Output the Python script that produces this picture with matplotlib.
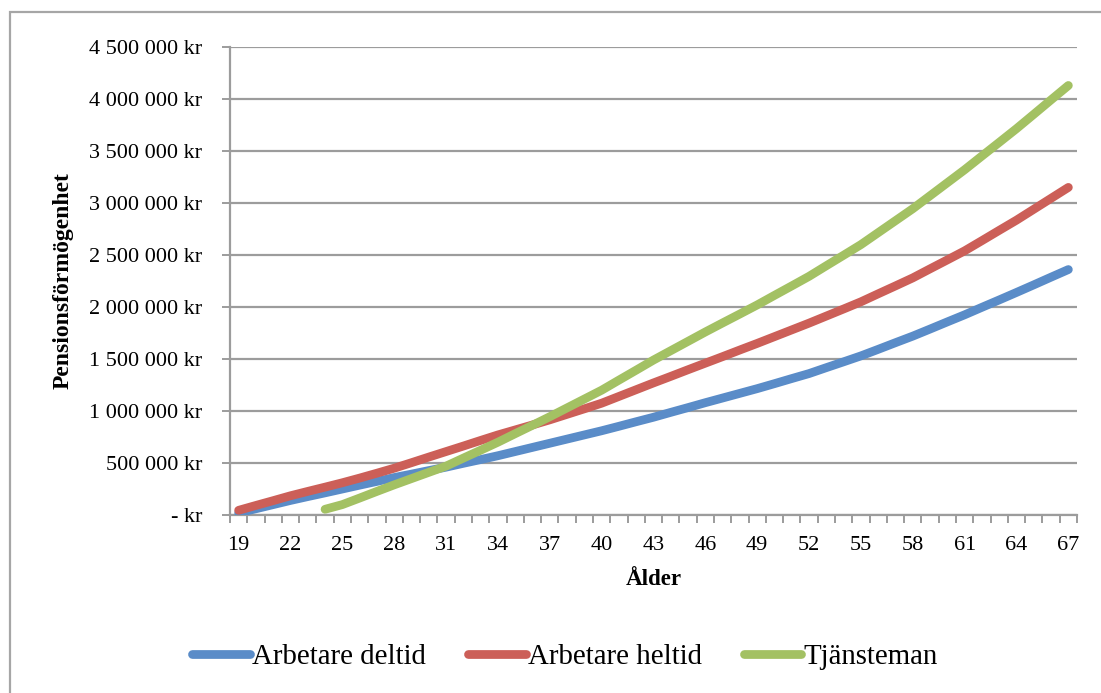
import numpy as np
import matplotlib
matplotlib.use("Agg")
import matplotlib.pyplot as plt
from matplotlib.ticker import FixedLocator, FuncFormatter, NullFormatter
from matplotlib.patches import Rectangle

# Ages on the category axis
ages = list(range(19, 68))

# Pension wealth (kr) per age
arbetare_deltid = [
    20000, 60000, 100000, 140000, 177000, 213000, 250000, 287000, 323000, 360000,
    393000, 427000, 460000, 497000, 533000, 570000, 610000, 650000, 690000, 730000,
    770000, 810000, 853000, 897000, 940000, 987000, 1033000, 1080000, 1125000, 1170000,
    1215000, 1263000, 1312000, 1360000, 1417000, 1473000, 1530000, 1593000, 1657000, 1720000,
    1788000, 1857000, 1925000, 1997000, 2068000, 2140000, 2213000, 2287000, 2360000,
]
arbetare_heltid = [
    45000, 92000, 138000, 185000, 227000, 268000, 310000, 355000, 402000, 450000,
    503000, 557000, 610000, 663000, 717000, 770000, 818000, 866000, 915000, 968000,
    1021000, 1075000, 1140000, 1205000, 1270000, 1333000, 1397000, 1460000, 1523000, 1587000,
    1650000, 1715000, 1780000, 1845000, 1913000, 1981000, 2050000, 2127000, 2203000, 2280000,
    2367000, 2453000, 2540000, 2638000, 2737000, 2835000, 2940000, 3045000, 3150000,
]
# Tjänsteman starts saving at 24
tjansteman = [
    None, None, None, None, None, 55000, 100000, 163000, 227000, 290000,
    350000, 410000, 470000, 547000, 623000, 700000, 782000, 863000, 945000, 1030000,
    1115000, 1200000, 1297000, 1393000, 1490000, 1580000, 1670000, 1760000, 1847000, 1933000,
    2020000, 2112000, 2203000, 2295000, 2397000, 2498000, 2600000, 2715000, 2830000, 2945000,
    3070000, 3195000, 3320000, 3452000, 3583000, 3715000, 3853000, 3992000, 4130000,
]

series_names = ["Arbetare deltid", "Arbetare heltid", "Tjänsteman"]
series_colors = ["#5A8CC8", "#CC5F58", "#A3C163"]

x_label_ages = list(range(19, 68, 3))
y_ticks = list(range(0, 4500001, 500000))

plt.rcParams["font.family"] = ["Liberation Serif", "DejaVu Serif"]

fig = plt.figure(figsize=(11.01, 6.93), dpi=100)
fig.patch.set_facecolor("white")

# Outer chart frame
fig.patches.append(Rectangle((10 / 1101, -0.1), 1.2, 1 - 12 / 693 + 0.1,
                             transform=fig.transFigure, fill=False,
                             edgecolor="#A6A6A6", linewidth=1.6, zorder=0))

ax = fig.add_axes([230 / 1101, 1 - 515 / 693, (1077 - 230) / 1101, (515 - 47) / 693])

def to_arr(vals):
    return np.array([np.nan if v is None else v for v in vals], dtype=float)

for name, vals, col in zip(series_names,
                           [arbetare_deltid, arbetare_heltid, tjansteman],
                           series_colors):
    ax.plot(ages, to_arr(vals), color=col, linewidth=6.3,
            solid_capstyle="round", solid_joinstyle="round", label=name, zorder=3)

ax.set_xlim(18.5, 67.5)
ax.set_ylim(0, 4500000)

grid_col = "#9C9C9C"
ax.set_yticks(y_ticks)
ax.yaxis.set_major_formatter(FuncFormatter(
    lambda v, p: "- kr" if v == 0 else f"{int(v):,} kr".replace(",", " ")))
ax.grid(axis="y", color=grid_col, linewidth=1.6, zorder=1)
ax.set_axisbelow(True)

# Tick marks between categories, labels on every third age
ax.xaxis.set_major_locator(FixedLocator(np.arange(18.5, 68.0, 1.0)))
ax.xaxis.set_major_formatter(NullFormatter())
ax.xaxis.set_minor_locator(FixedLocator(x_label_ages))
ax.xaxis.set_minor_formatter(FuncFormatter(lambda v, p: f"{int(round(v))}"))
ax.tick_params(axis="x", which="major", length=6, width=1.4, color=grid_col, direction="out")
ax.tick_params(axis="x", which="minor", length=0, pad=15, labelsize=16)
ax.tick_params(axis="y", which="major", length=6, width=1.4, color=grid_col,
               direction="out", pad=14, labelsize=16)

for s in ["top", "right"]:
    ax.spines[s].set_visible(False)
for s in ["left", "bottom"]:
    ax.spines[s].set_color(grid_col)
    ax.spines[s].set_linewidth(1.6)

ax.set_xlabel("Ålder", fontsize=16.5, fontweight="bold", labelpad=10)
fig.text(63 / 1101, 1 - 281 / 693, "Pensionsförmögenhet", rotation=90,
         ha="center", va="center", fontsize=17, fontweight="bold")

leg = fig.legend(loc="center", bbox_to_anchor=(565 / 1101, 1 - 657 / 693),
                 ncol=3, frameon=False, fontsize=20.8, handlelength=2.0,
                 handletextpad=0.07, columnspacing=1.45, borderaxespad=0)

fig.savefig("out.png", dpi=100, facecolor="white")
